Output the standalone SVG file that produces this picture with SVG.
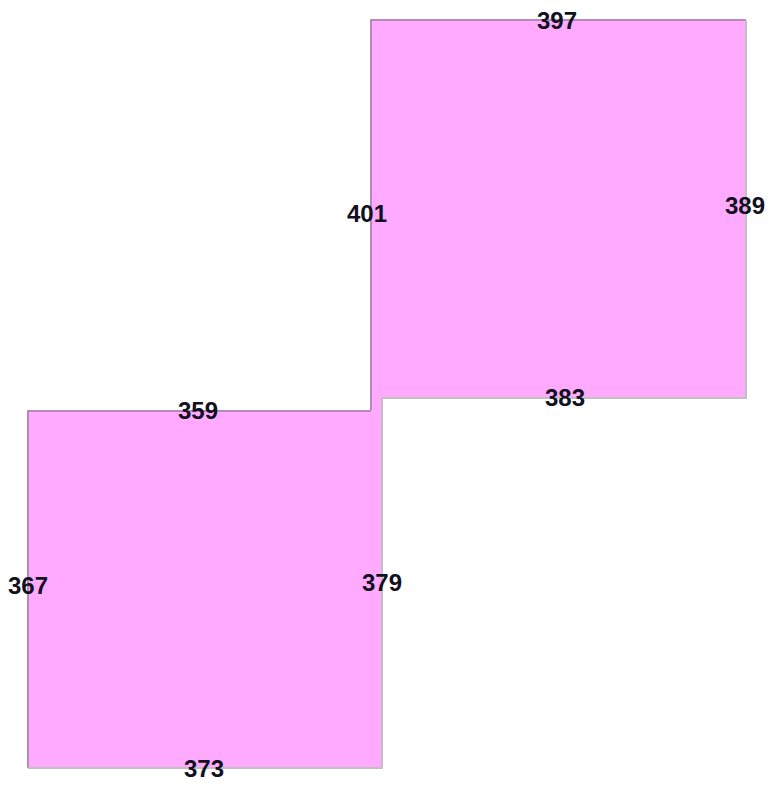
<svg xmlns="http://www.w3.org/2000/svg" width="769" height="786" viewBox="0 0 769 786">
<style>
.fill{fill:#ffaaff;stroke:none}
.tl{fill:none;stroke:#b888b8;stroke-width:2}
.br{fill:none;stroke:#c0c0c0;stroke-width:2}
.lbl{font-family:"Liberation Sans",Arial,sans-serif;font-size:24px;font-weight:bold;fill:#111122;text-anchor:middle}
</style>
<rect width="769" height="786" fill="#ffffff"/>
<g id="upper">
<rect class="fill" x="370" y="19" width="376" height="379"/>
<rect class="fill" x="370" y="397" width="12" height="14"/>
<polyline class="tl" points="371,411 371,20 746,20"/>
<polyline class="br" points="746,20 746,398 382,398"/>
</g>
<g id="lower">
<rect class="fill" x="27" y="410" width="355" height="358"/>
<polyline class="tl" points="28,768 28,411 371,411"/>
<polyline class="br" points="382,398 382,768 28,768"/>
</g>
<g id="labels">
<text class="lbl" x="557" y="29">397</text>
<text class="lbl" x="367" y="222">401</text>
<text class="lbl" x="745" y="214">389</text>
<text class="lbl" x="565" y="406">383</text>
<text class="lbl" x="198" y="419">359</text>
<text class="lbl" x="28" y="594">367</text>
<text class="lbl" x="382" y="591">379</text>
<text class="lbl" x="204" y="777">373</text>
</g>
</svg>
